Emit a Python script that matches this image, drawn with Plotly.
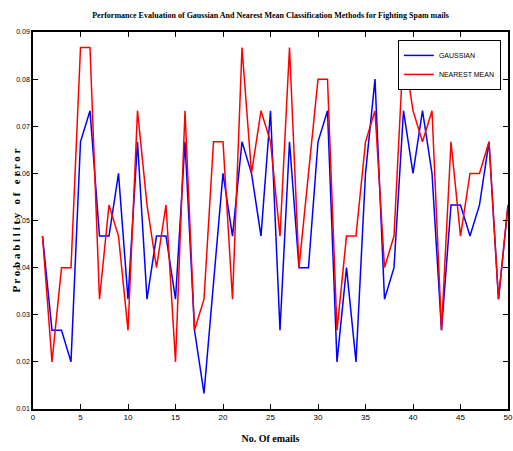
import plotly.graph_objects as go

emails = list(range(1, 51))
gaussian = [0.0467, 0.0267, 0.0267, 0.0200, 0.0667, 0.0733, 0.0467, 0.0467, 0.0600, 0.0333,
            0.0667, 0.0333, 0.0467, 0.0467, 0.0333, 0.0667, 0.0267, 0.0133, 0.0367, 0.0600,
            0.0467, 0.0667, 0.0600, 0.0467, 0.0733, 0.0267, 0.0667, 0.0400, 0.0400, 0.0667,
            0.0733, 0.0200, 0.0400, 0.0200, 0.0600, 0.0800, 0.0333, 0.0400, 0.0733, 0.0600,
            0.0733, 0.0600, 0.0267, 0.0533, 0.0533, 0.0467, 0.0533, 0.0667, 0.0333, 0.0533]
nearest_mean = [0.0467, 0.0200, 0.0400, 0.0400, 0.0867, 0.0867, 0.0333, 0.0533, 0.0467, 0.0267,
                0.0733, 0.0533, 0.0400, 0.0533, 0.0200, 0.0733, 0.0267, 0.0333, 0.0667, 0.0667,
                0.0333, 0.0867, 0.0600, 0.0733, 0.0667, 0.0467, 0.0867, 0.0400, 0.0600, 0.0800,
                0.0800, 0.0267, 0.0467, 0.0467, 0.0667, 0.0733, 0.0400, 0.0467, 0.0867, 0.0733,
                0.0667, 0.0733, 0.0267, 0.0667, 0.0467, 0.0600, 0.0600, 0.0667, 0.0333, 0.0533]
x_ticks = [0, 5, 10, 15, 20, 25, 30, 35, 40, 45, 50]
y_ticks = [0.01, 0.02, 0.03, 0.04, 0.05, 0.06, 0.07, 0.08, 0.09]

narrow = "Liberation Sans Narrow, Arial Narrow, sans-serif"
serif = "Liberation Serif, Times New Roman, serif"

W, H = 513, 451
L, R, T, B = 33, 5, 32, 42
pw = W - L - R

fig = go.Figure()
fig.add_trace(go.Scatter(x=emails, y=gaussian, mode="lines", name="GAUSSIAN",
                         line=dict(color="#0000ff", width=1.5)))
fig.add_trace(go.Scatter(x=emails, y=nearest_mean, mode="lines", name="NEAREST MEAN",
                         line=dict(color="#ff0000", width=1.5)))

fig.update_layout(
    width=W, height=H,
    margin=dict(l=L, r=R, t=T, b=B, autoexpand=False),
    paper_bgcolor="white", plot_bgcolor="white",
    title=dict(text="<b>Performance Evaluation of Gaussian And Nearest Mean Classification Methods for Fighting Spam mails</b>",
               x=(L + pw / 2) / W, xanchor="center", y=1 - 15 / H, yanchor="middle",
               font=dict(family=serif, size=8, color="black")),
    showlegend=True,
    legend=dict(x=0.985, xanchor="right", y=0.979, yanchor="top",
                bgcolor="white", bordercolor="black", borderwidth=1,
                font=dict(family=narrow, size=7, color="black"),
                itemwidth=30, tracegroupgap=0),
    font=dict(family=narrow, size=8, color="black"),
    annotations=[dict(text="<b>P r o b a b i l i t y   o f   e r r o r</b>", textangle=-90,
                      xref="paper", yref="paper", x=(15 - L) / pw, y=0.5,
                      xanchor="center", yanchor="middle", showarrow=False,
                      font=dict(family=serif, size=11, color="black"))],
)
fig.update_xaxes(range=[0, 50], tickvals=x_ticks, ticktext=[str(v) for v in x_ticks],
                 ticks="inside", ticklen=5, tickcolor="black", tickwidth=1,
                 showline=True, linecolor="black", linewidth=1.5, mirror="ticks",
                 showgrid=False, zeroline=False, automargin=False, ticklabeloverflow="allow",
                 tickfont=dict(family=narrow, size=8, color="black"),
                 title=dict(text="<b>No. Of emails</b>", standoff=14,
                            font=dict(family=serif, size=10, color="black")))
fig.update_yaxes(range=[0.01, 0.09], tickvals=y_ticks, ticktext=["%.2f" % v for v in y_ticks],
                 ticks="inside", ticklen=5, tickcolor="black", tickwidth=1,
                 showline=True, linecolor="black", linewidth=1.5, mirror="ticks",
                 showgrid=False, zeroline=False, automargin=False, ticklabeloverflow="allow",
                 tickfont=dict(family=narrow, size=7, color="black"))

fig.write_html("out.html", config={"displayModeBar": False},
               post_script="document.body.style.margin='0';document.body.style.overflow='hidden';")
